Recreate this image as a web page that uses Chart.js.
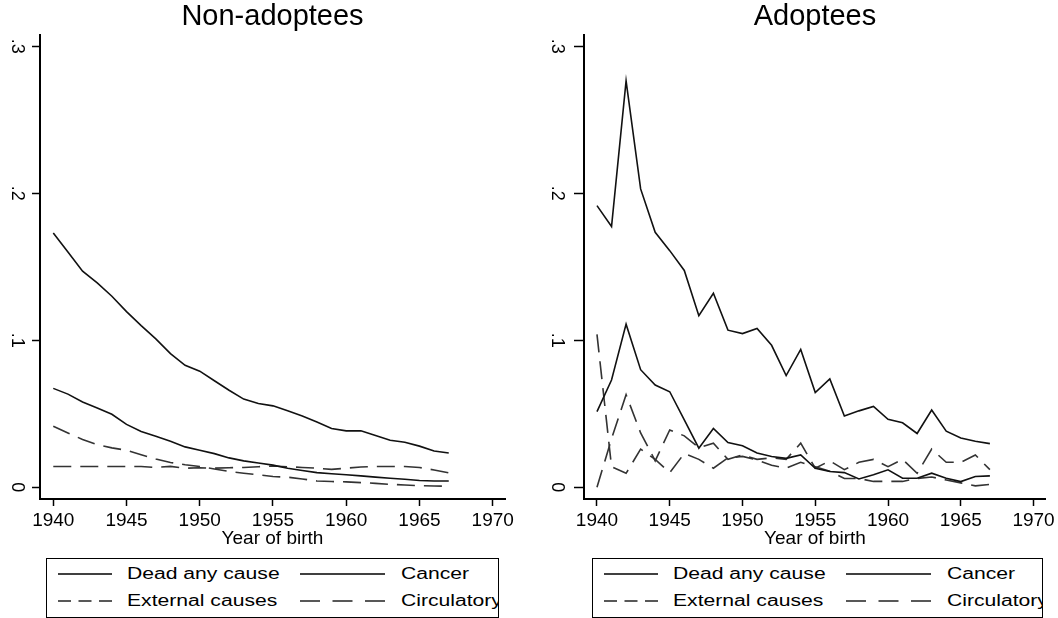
<!DOCTYPE html>
<html><head><meta charset="utf-8">
<script src="https://cdn.jsdelivr.net/npm/chart.js@4.4.1/dist/chart.umd.min.js"></script>
<style>
html,body{margin:0;padding:0;background:#fff;}
body{width:1058px;height:618px;position:relative;overflow:hidden;font-family:'Liberation Sans',Arial,sans-serif;}
canvas{position:absolute;top:0;}
#c1{left:0;}
#c2{left:544px;}
.leg{position:absolute;top:558px;height:60px;box-sizing:border-box;border:1.5px solid #000;overflow:hidden;background:#fff;}
.li{position:absolute;font-size:16px;line-height:16px;height:16px;transform-origin:left center;transform:scaleX(1.32);white-space:nowrap;color:#000;}
svg.s{position:absolute;overflow:visible;}
</style></head>
<body>
<canvas id="c1" width="529" height="550" style="width:529px;height:550px"></canvas>
<canvas id="c2" width="514" height="550" style="width:514px;height:550px"></canvas>
<div id="leg1" class="leg" style="left:46px;width:453px"></div>
<div id="leg2" class="leg" style="left:592px;width:451px"></div>
<script>
// ---- data ----
const years = [1940,1941,1942,1943,1944,1945,1946,1947,1948,1949,1950,1951,1952,1953,1954,1955,1956,1957,1958,1959,1960,1961,1962,1963,1964,1965,1966,1967];
const xTicks = [1940,1945,1950,1955,1960,1965,1970];
const xTickLabels = ['1940','1945','1950','1955','1960','1965','1970'];
const yTicks = [0,0.1,0.2,0.3];
const yTickLabels = ['0','.1','.2','.3'];
const seriesNames = ['Dead any cause','Cancer','External causes','Circulatory'];
const panelTitles = ['Non-adoptees','Adoptees'];
const xAxisTitle = 'Year of birth';

// Non-adoptees
const naDead = [0.173,0.160,0.147,0.139,0.130,0.1195,0.110,0.101,0.091,0.083,0.079,0.0725,0.066,0.060,0.057,0.0554,0.052,0.0485,0.0444,0.040,0.0384,0.0384,0.0352,0.032,0.0307,0.028,0.0247,0.0233];
const naCancer = [0.0673,0.0634,0.058,0.054,0.0497,0.0428,0.038,0.0348,0.0313,0.0275,0.0252,0.0229,0.020,0.018,0.0165,0.0151,0.013,0.0114,0.010,0.0092,0.0085,0.0078,0.0069,0.0062,0.0055,0.0046,0.0043,0.0043];
const naExternal = [0.0142,0.0142,0.0142,0.0142,0.0142,0.0142,0.0142,0.0135,0.0142,0.013,0.0133,0.013,0.0133,0.0135,0.014,0.0145,0.014,0.0135,0.013,0.0122,0.013,0.0138,0.0142,0.0142,0.0142,0.0135,0.0118,0.0098];
const naCirculatory = [0.0416,0.037,0.0325,0.029,0.0268,0.0252,0.0222,0.0192,0.0169,0.0153,0.0142,0.0124,0.0108,0.0096,0.0085,0.0073,0.0069,0.0057,0.0043,0.0039,0.0037,0.0032,0.0027,0.002,0.0016,0.0011,0.0009,0.0007];

// Adoptees
const adDead = [0.1916,0.1774,0.2765,0.203,0.1735,0.161,0.1475,0.1167,0.132,0.1069,0.1046,0.108,0.0966,0.076,0.0938,0.0645,0.0737,0.0485,0.052,0.055,0.0462,0.0439,0.0366,0.0526,0.0382,0.0336,0.0313,0.0297];
const adCancer = [0.0515,0.073,0.111,0.080,0.0696,0.065,0.0458,0.0266,0.040,0.0304,0.0283,0.0233,0.0209,0.0197,0.022,0.0129,0.0108,0.010,0.0057,0.0085,0.0119,0.0062,0.0062,0.0096,0.0062,0.0039,0.0073,0.0078];
const adExternal = [0.000,0.033,0.063,0.037,0.018,0.039,0.035,0.027,0.030,0.019,0.022,0.019,0.020,0.019,0.030,0.013,0.018,0.012,0.017,0.019,0.014,0.019,0.0095,0.026,0.017,0.017,0.022,0.012];
const adCirculatory = [0.104,0.014,0.0095,0.026,0.019,0.010,0.023,0.019,0.013,0.020,0.021,0.0186,0.015,0.013,0.017,0.014,0.011,0.006,0.006,0.004,0.004,0.004,0.006,0.007,0.005,0.003,0.001,0.002];

// ---- rendering ----
const FONT = "'Liberation Sans', Arial, sans-serif";
const dashed = [false,false,true,true];

function makeChart(id, title, valuesList, opt){
  const datasets = valuesList.map((vals,k)=>({
    label: seriesNames[k],
    data: years.map((yr,i)=>({x:yr, y:vals[i]})),
    borderColor: dashed[k] ? '#333' : '#111',
    borderWidth: 1.6,
    borderDash: dashed[k] ? [18,9] : [],
    pointRadius: 0, fill:false, tension:0
  }));
  return new Chart(document.getElementById(id), {
    type:'line',
    data:{datasets},
    options:{
      responsive:false, animation:false, events:[],
      layout:{padding:{left:0,right:opt.padRight,top:0,bottom:1}},
      plugins:{
        legend:{display:false}, tooltip:{enabled:false},
        title:{display:true,text:title,fullSize:false,color:'#000',
          font:{family:FONT,size:29,weight:'normal',lineHeight:1.2},padding:{top:0,bottom:0.2}}
      },
      scales:{
        x:{type:'linear',min:opt.xmin,max:opt.xmax,
          afterBuildTicks:s=>{s.ticks=xTicks.map(v=>({value:v}));},
          afterFit:s=>{s.height=50;},
          ticks:{autoSkip:false,maxRotation:0,minRotation:0,padding:3,color:'#000',
            font:{family:FONT,size:19},callback:(v,i)=>xTickLabels[i]},
          grid:{display:true,drawOnChartArea:false,drawTicks:true,tickLength:7,tickColor:'#000',tickWidth:1.5},
          border:{display:true,color:'#000',width:2},
          title:{display:true,text:xAxisTitle,color:'#000',font:{family:FONT,size:19,lineHeight:1},padding:{top:0,bottom:0.5}}
        },
        y:{type:'linear',min:-0.00796,max:0.3077,
          afterBuildTicks:s=>{s.ticks=yTicks.map(v=>({value:v}));},
          afterFit:s=>{s.width=40;},
          ticks:{autoSkip:false,minRotation:-90,maxRotation:-90,crossAlign:'center',padding:opt.yPad,color:'#000',
            font:{family:FONT,size:18},callback:(v,i)=>yTickLabels[i]},
          grid:{display:true,drawOnChartArea:false,drawTicks:true,tickLength:opt.yTick,tickColor:'#000',tickWidth:1.5},
          border:{display:true,color:'#000',width:2}
        }
      }
    }
  });
}

makeChart('c1', panelTitles[0], [naDead,naCancer,naExternal,naCirculatory],
  {padRight:24, xmin:1939.093, xmax:1970.84, yPad:8, yTick:8});
makeChart('c2', panelTitles[1], [adDead,adCancer,adExternal,adCirculatory],
  {padRight:11.3, xmin:1939.108, xmax:1970.85, yPad:10, yTick:10});

// ---- legends ----
function buildLegend(id){
  const box = document.getElementById(id);
  const rows = [14.8, 42.2];
  const cols = [{lx:11,lw:54,tx:80},{lx:253,lw:85,tx:354}];
  seriesNames.forEach((name,k)=>{
    const r = rows[Math.floor(k/2)], c = cols[k%2];
    const svg = document.createElementNS('http://www.w3.org/2000/svg','svg');
    svg.setAttribute('class','s');
    svg.setAttribute('width',c.lw); svg.setAttribute('height',4);
    svg.style.left=c.lx+'px'; svg.style.top=(r-2)+'px';
    const ln = document.createElementNS('http://www.w3.org/2000/svg','line');
    ln.setAttribute('x1',0); ln.setAttribute('x2',c.lw); ln.setAttribute('y1',2); ln.setAttribute('y2',2);
    ln.setAttribute('stroke', dashed[k] ? '#222' : '#000');
    ln.setAttribute('stroke-width',1.5);
    if (dashed[k]) ln.setAttribute('stroke-dasharray', k%2 ? '20 12.5' : '13 7.5');
    svg.appendChild(ln); box.appendChild(svg);
    const t = document.createElement('div');
    t.className='li'; t.textContent=name;
    t.style.left=c.tx+'px'; t.style.top=(r-8)+'px';
    box.appendChild(t);
  });
}
buildLegend('leg1'); buildLegend('leg2');
</script>
</body></html>
